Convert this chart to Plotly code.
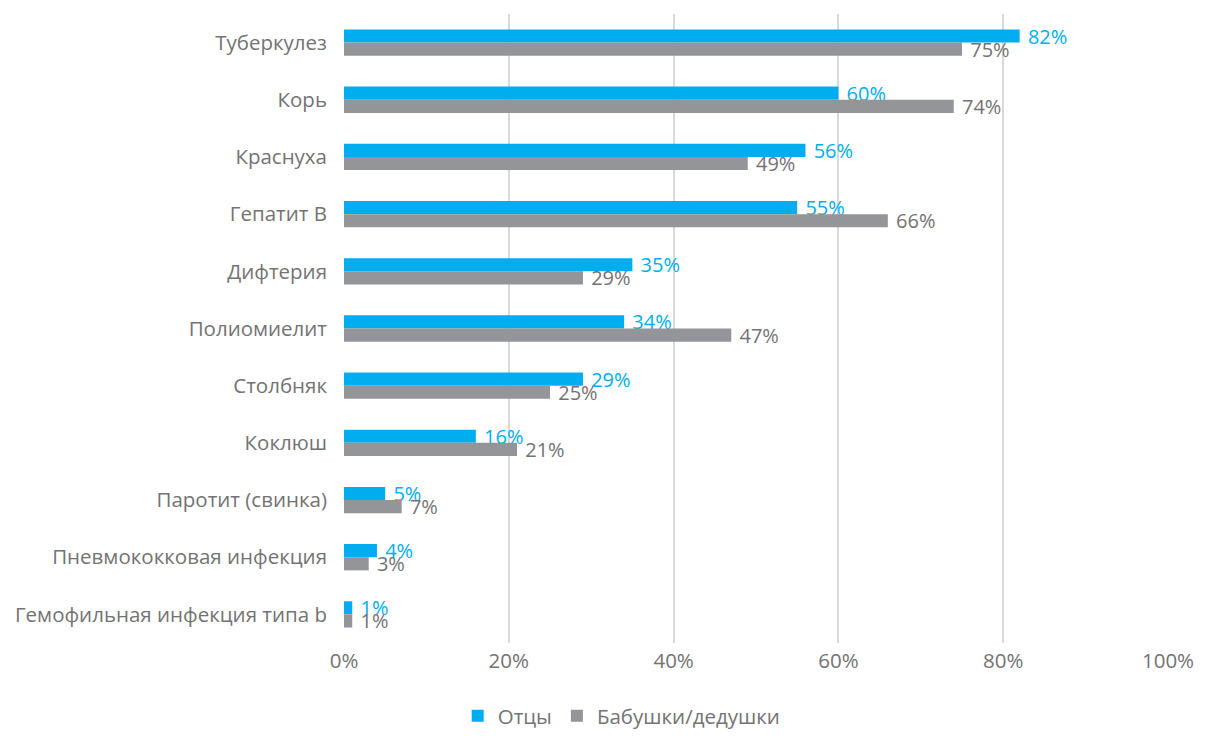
import plotly.graph_objects as go

# Categories (top to bottom) and shares of respondents, %
diseases = [
    "Туберкулез",
    "Корь",
    "Краснуха",
    "Гепатит В",
    "Дифтерия",
    "Полиомиелит",
    "Столбняк",
    "Коклюш",
    "Паротит (свинка)",
    "Пневмококковая инфекция",
    "Гемофильная инфекция типа b",
]
fathers = [82, 60, 56, 55, 35, 34, 29, 16, 5, 4, 1]
grandparents = [75, 74, 49, 66, 29, 47, 25, 21, 7, 3, 1]

x_ticks = [0, 20, 40, 60, 80, 100]

BLUE = "#00AEEF"
GREY = "#939598"
TEXT = "#737373"
FONT = "Open Sans"
SIZE = 20.5

fig = go.Figure()
fig.add_trace(go.Bar(
    name="Отцы", y=diseases, x=fathers, orientation="h",
    marker=dict(color=BLUE, line=dict(width=0)),
    text=[f" {v}%" for v in fathers], textposition="outside",
    constraintext="none",
    textfont=dict(color=BLUE, size=20, family=FONT),
    cliponaxis=False,
))
fig.add_trace(go.Bar(
    name="Бабушки/дедушки", y=diseases, x=grandparents, orientation="h",
    marker=dict(color=GREY, line=dict(width=0)),
    text=[f" {v}%" for v in grandparents], textposition="outside",
    constraintext="none",
    textfont=dict(color=TEXT, size=20, family=FONT),
    cliponaxis=False,
))

# Paper spans y = 14..736 px; plot area ends at 643 px, legend sits below it
fig.update_layout(
    width=1205, height=736,
    margin=dict(l=344, r=37, t=14, b=0),
    paper_bgcolor="white", plot_bgcolor="white",
    barmode="group", bargap=0.54, bargroupgap=0,
    font=dict(family=FONT, size=SIZE, color=TEXT),
    legend=dict(
        orientation="h", x=0.337, xanchor="center", y=0.0, yanchor="bottom",
        font=dict(size=SIZE, color=TEXT, family=FONT), traceorder="normal",
        itemwidth=30,
    ),
    xaxis=dict(
        range=[0, 100], tickvals=x_ticks, ticktext=[f"{t}%" for t in x_ticks],
        showgrid=True, gridcolor="#d9d9d9", gridwidth=1.5,
        zeroline=False, showline=False, ticks="", ticklabelstandoff=3,
        tickfont=dict(size=SIZE, color=TEXT, family=FONT),
    ),
    yaxis=dict(
        domain=[(736 - 643) / 722, 1],
        autorange="reversed", showgrid=False, zeroline=False, showline=False,
        ticks="", ticklabelstandoff=16,
        tickfont=dict(size=SIZE, color=TEXT, family=FONT),
    ),
)

fig.write_html("out.html")
